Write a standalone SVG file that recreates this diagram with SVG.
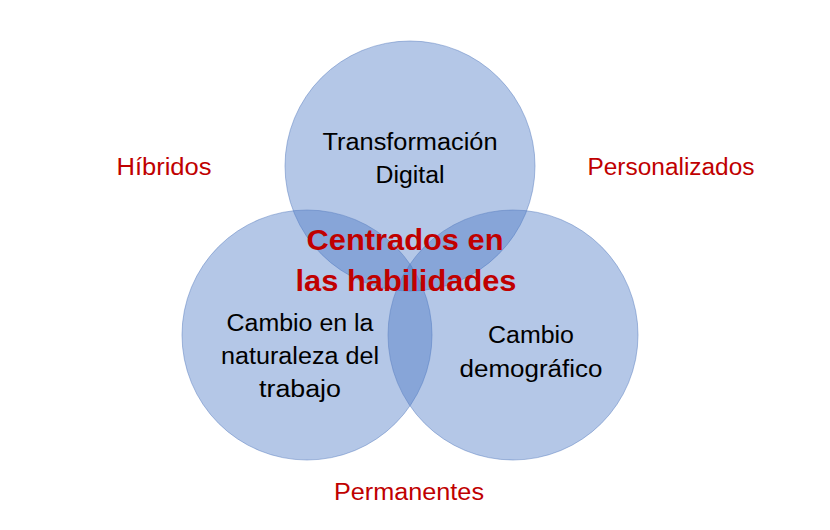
<svg xmlns="http://www.w3.org/2000/svg" width="830" height="530" viewBox="0 0 830 530">
<style>
.c{fill:#4472C4;fill-opacity:0.4;stroke:#5B7FC0;stroke-opacity:0.5;stroke-width:1}
.t{font-family:"Liberation Sans",Arial,sans-serif;font-size:23.5px;fill:#000;text-anchor:middle}
.r{font-family:"Liberation Sans",Arial,sans-serif;font-size:23.5px;fill:#C00000;text-anchor:middle}
.b{font-family:"Liberation Sans",Arial,sans-serif;font-size:29px;font-weight:bold;fill:#C00000;text-anchor:middle}
</style>
<rect width="830" height="530" fill="#fff"/>
<g id="top"><circle class="c" cx="410" cy="166" r="125"/>
<text class="t" x="410" y="150" textLength="175" lengthAdjust="spacingAndGlyphs">Transformación</text>
<text class="t" x="410" y="183" textLength="69" lengthAdjust="spacingAndGlyphs">Digital</text></g>
<g id="left"><circle class="c" cx="307" cy="335" r="125"/>
<text class="t" x="300" y="331" textLength="147" lengthAdjust="spacingAndGlyphs">Cambio en la</text>
<text class="t" x="300" y="364" textLength="158" lengthAdjust="spacingAndGlyphs">naturaleza del</text>
<text class="t" x="300" y="397" textLength="82" lengthAdjust="spacingAndGlyphs">trabajo</text></g>
<g id="right"><circle class="c" cx="513" cy="335" r="125"/>
<text class="t" x="531" y="343" textLength="86" lengthAdjust="spacingAndGlyphs">Cambio</text>
<text class="t" x="531" y="377" textLength="143" lengthAdjust="spacingAndGlyphs">demográfico</text></g>
<g id="center">
<text class="b" x="405" y="250" textLength="197" lengthAdjust="spacingAndGlyphs">Centrados en</text>
<text class="b" x="406" y="291" textLength="221" lengthAdjust="spacingAndGlyphs">las habilidades</text></g>
<g id="hibridos"><text class="r" x="164" y="175" textLength="95" lengthAdjust="spacingAndGlyphs">Híbridos</text></g>
<g id="personalizados"><text class="r" x="671" y="175" textLength="167" lengthAdjust="spacingAndGlyphs">Personalizados</text></g>
<g id="permanentes"><text class="r" x="409" y="500" textLength="150" lengthAdjust="spacingAndGlyphs">Permanentes</text></g>
<g id="connectors"/>
</svg>
